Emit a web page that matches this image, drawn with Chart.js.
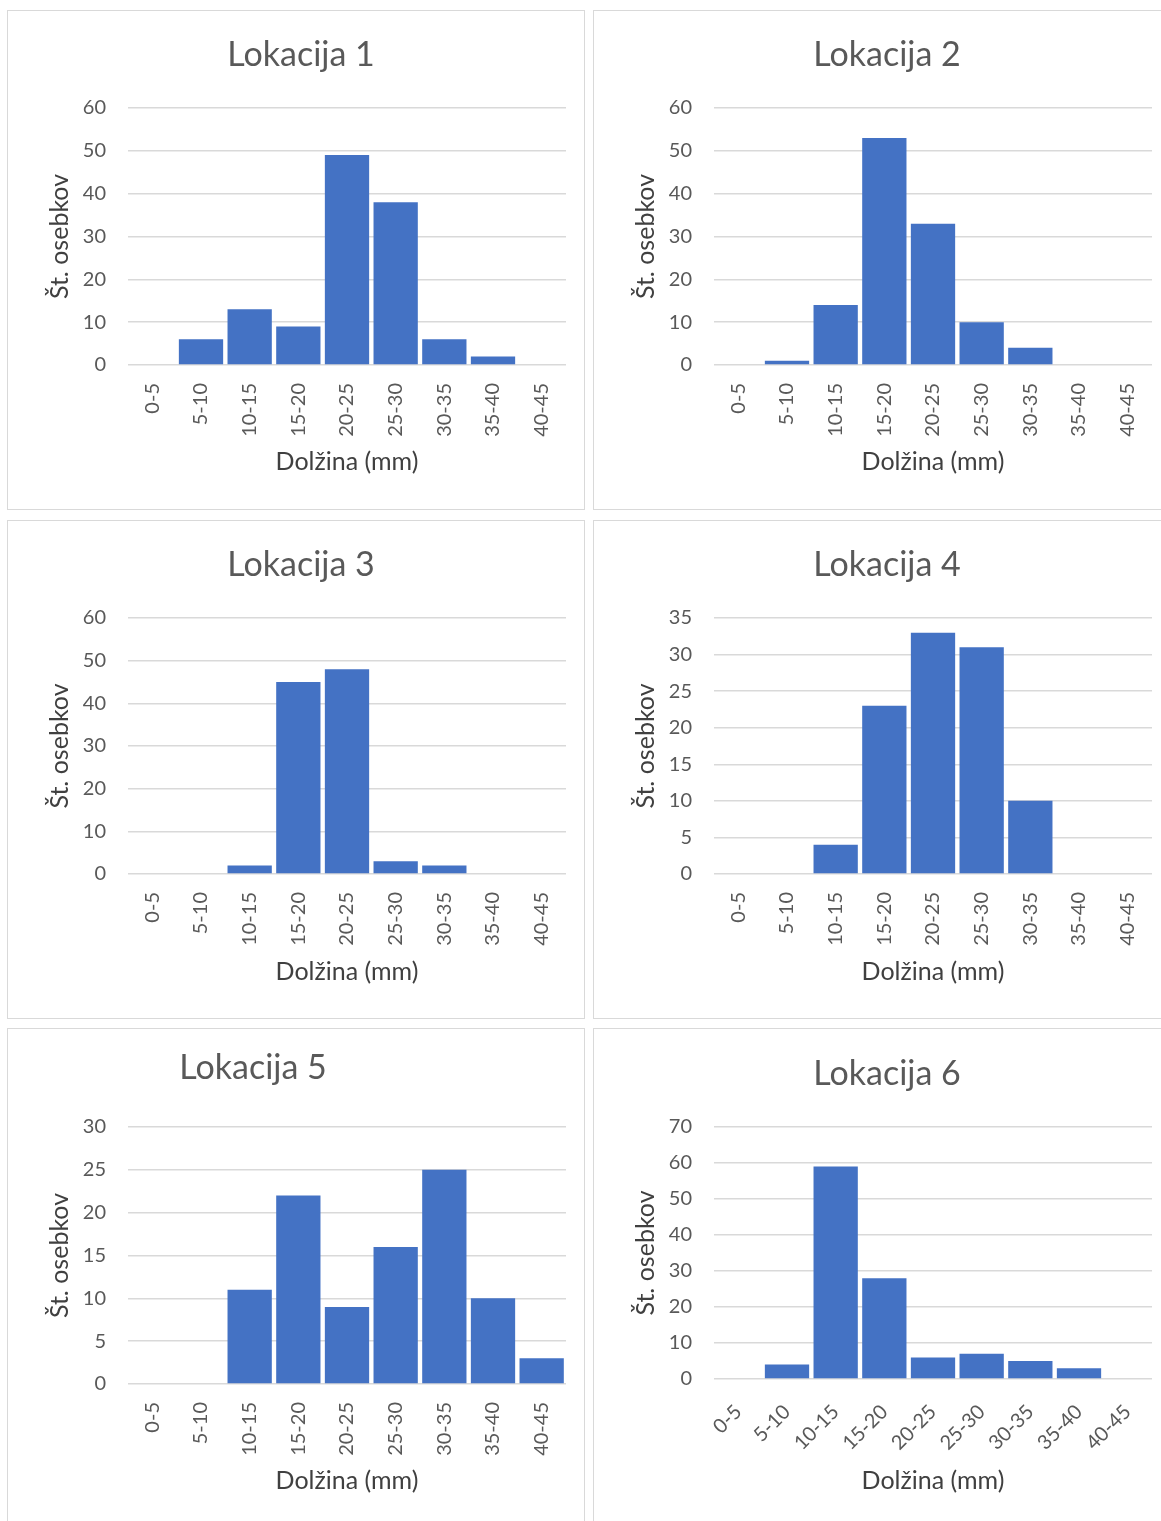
<!DOCTYPE html>
<html>
<head>
<meta charset="utf-8">
<script src="https://cdn.jsdelivr.net/npm/chart.js@4"></script>
<style>
  body{margin:0;background:#fff;width:1161px;height:1521px;overflow:hidden;position:relative;font-family:Lato,sans-serif}
  .frame{position:absolute;border:1.5px solid #d9d9d9;box-sizing:border-box}
  canvas{position:absolute}
  .ttl{position:absolute;font-size:34px;color:#595959;transform:translate(-50%,-50%);white-space:nowrap}
</style>
</head>
<body>
<script>
// length classes (mm)
const categories = ['0-5','5-10','10-15','15-20','20-25','25-30','30-35','35-40','40-45'];

// number of specimens per location
const lokacija1 = [0, 6, 13, 9, 49, 38, 6, 2, 0];
const lokacija2 = [0, 1, 14, 53, 33, 10, 4, 0, 0];
const lokacija3 = [0, 0, 2, 45, 48, 3, 2, 0, 0];
const lokacija4 = [0, 0, 4, 23, 33, 31, 10, 0, 0];
const lokacija5 = [0, 0, 11, 22, 9, 16, 25, 10, 3];
const lokacija6 = [0, 4, 59, 28, 6, 7, 5, 3, 0];

const titles = ['Lokacija 1','Lokacija 2','Lokacija 3','Lokacija 4','Lokacija 5','Lokacija 6'];
const yMax  = [60, 60, 60, 35, 30, 70];
const yStep = [10, 10, 10, 5, 5, 10];

// panel geometry (page px)
const panels = [
  {x:7,   y:10,   h:500, plotTop:98, plotBot:355, axTitle:452, ttlX:294, ttlY:42, rot:90, pad:10},
  {x:593, y:10,   h:500, plotTop:98, plotBot:355, axTitle:452, ttlX:294, ttlY:42, rot:90, pad:10},
  {x:7,   y:520,  h:499, plotTop:98, plotBot:354, axTitle:452, ttlX:294, ttlY:42, rot:90, pad:10},
  {x:593, y:520,  h:499, plotTop:98, plotBot:354, axTitle:452, ttlX:294, ttlY:42, rot:90, pad:10},
  {x:7,   y:1028, h:500, plotTop:99, plotBot:356, axTitle:453, ttlX:246, ttlY:37, rot:90, pad:10},
  {x:593, y:1028, h:500, plotTop:99, plotBot:351, axTitle:453, ttlX:294, ttlY:43, rot:45, pad:13}
];
const series = [lokacija1, lokacija2, lokacija3, lokacija4, lokacija5, lokacija6];

const W = 578, H = 500;
const tickColor = '#595959', titleColor = '#404040';
const axFont = 25, halfLine = axFont * 1.2 / 2;

panels.forEach((p, i) => {
  const fr = document.createElement('div');
  fr.className = 'frame';
  fr.style.cssText = `left:${p.x}px;top:${p.y}px;width:${W}px;height:${p.h}px`;
  document.body.appendChild(fr);

  const cv = document.createElement('canvas');
  cv.width = W; cv.height = H;
  cv.style.left = p.x + 'px'; cv.style.top = p.y + 'px';
  document.body.appendChild(cv);

  const t = document.createElement('div');
  t.className = 'ttl'; t.textContent = titles[i];
  t.style.left = (p.x + p.ttlX) + 'px'; t.style.top = (p.y + p.ttlY) + 'px';
  document.body.appendChild(t);

  const scaleBottom = p.axTitle + halfLine;
  const padLeft = 53 - halfLine;
  new Chart(cv, {
    type: 'bar',
    data: {
      labels: categories,
      datasets: [{data: series[i], backgroundColor: '#4472C4', barPercentage: 0.91, categoryPercentage: 1}]
    },
    options: {
      responsive: false, animation: false, devicePixelRatio: 1,
      layout: {padding: {left: padLeft, right: 19, top: p.plotTop, bottom: H - scaleBottom}},
      plugins: {legend: {display: false}, tooltip: {enabled: false}},
      scales: {
        x: {
          grid: {display: false}, border: {display: false},
          ticks: {autoSkip: false, minRotation: p.rot, maxRotation: p.rot, padding: p.pad,
                  color: tickColor, font: {family: 'Lato', size: 20}},
          title: {display: true, text: 'Dolžina (mm)', color: titleColor, padding: 0,
                  font: {family: 'Lato', size: axFont}},
          afterFit(s){ s.height = scaleBottom - p.plotBot; }
        },
        y: {
          min: 0, max: yMax[i],
          grid: {color: '#d9d9d9', lineWidth: 1.5, drawTicks: false}, border: {display: false},
          ticks: {stepSize: yStep[i], padding: 22, color: tickColor, font: {family: 'Lato', size: 20}},
          title: {display: true, text: 'Št. osebkov', color: titleColor, padding: 0,
                  font: {family: 'Lato', size: axFont}},
          afterFit(s){ s.width = 121 - padLeft; }
        }
      }
    }
  });
});
</script>
</body>
</html>
